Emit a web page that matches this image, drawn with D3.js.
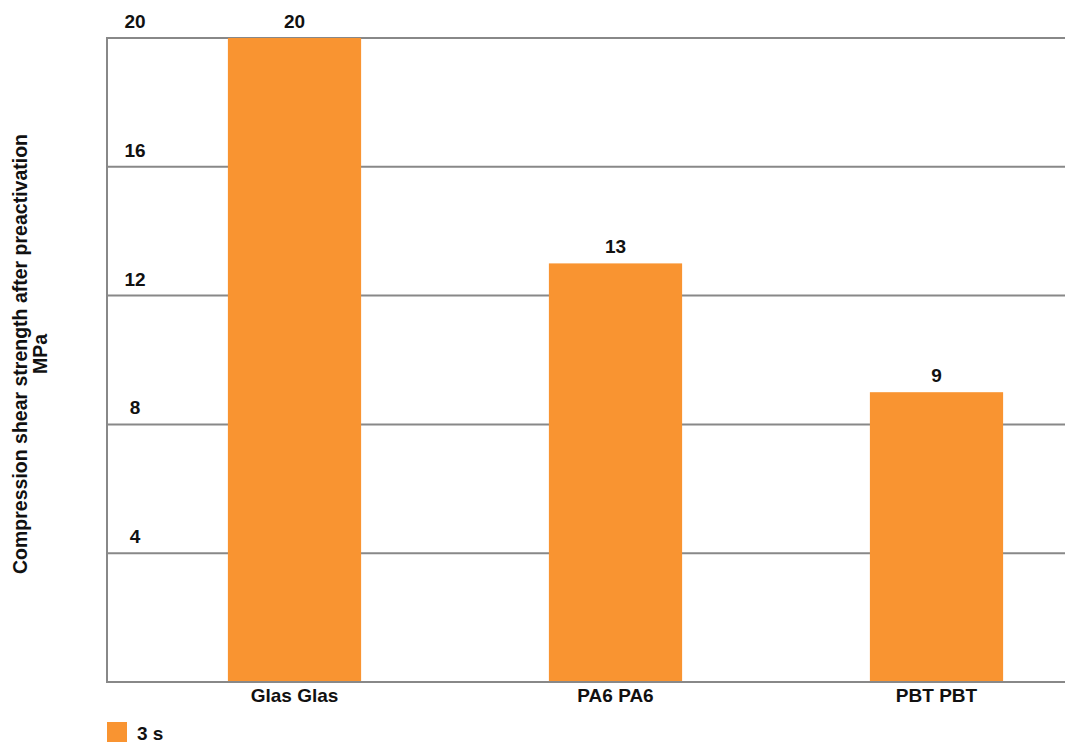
<!DOCTYPE html>
<html>
<head>
<meta charset="utf-8">
<script src="https://cdn.jsdelivr.net/npm/d3@7"></script>
<style>
  body { margin: 0; background: #fff; }
  text { font-family: "Liberation Sans", Arial, sans-serif; font-weight: bold; fill: #111; }
</style>
</head>
<body>
<div id="chart"></div>
<script>
const categories = ['Glas Glas', 'PA6 PA6', 'PBT PBT'];
const values = [20, 13, 9];
const yTicks = [4, 8, 12, 16, 20];
const seriesName = '3 s';
const yTitle = ['Compression shear strength after preactivation', 'MPa'];

const width = 1065, height = 744;
const plot = { left: 107, top: 38, bottom: 682 };
const fs = 19;

const svg = d3.select('#chart').append('svg')
    .attr('width', width)
    .attr('height', height);

const y = d3.scaleLinear([0, 20], [plot.bottom, plot.top]);
const x = d3.scaleBand(categories, [134, 1097])
    .paddingInner(0.585)
    .paddingOuter(0.2925);

// gridlines
svg.append('g')
    .selectAll('line')
    .data(yTicks)
    .join('line')
    .attr('x1', plot.left)
    .attr('x2', width)
    .attr('y1', d => y(d))
    .attr('y2', d => y(d))
    .attr('stroke', '#888')
    .attr('stroke-width', 2);

// bars
svg.append('g')
    .selectAll('rect')
    .data(values)
    .join('rect')
    .attr('x', (d, i) => x(categories[i]))
    .attr('y', d => y(d))
    .attr('width', x.bandwidth())
    .attr('height', d => y(0) - y(d))
    .attr('fill', '#f99431');

// axes lines
svg.append('line')
    .attr('x1', plot.left).attr('x2', plot.left)
    .attr('y1', plot.top - 1).attr('y2', plot.bottom + 1)
    .attr('stroke', '#888').attr('stroke-width', 2);
svg.append('line')
    .attr('x1', plot.left).attr('x2', width)
    .attr('y1', plot.bottom).attr('y2', plot.bottom)
    .attr('stroke', '#888').attr('stroke-width', 2);

// tick labels
svg.append('g')
    .attr('font-size', fs)
    .selectAll('text')
    .data(yTicks)
    .join('text')
    .attr('x', 135)
    .attr('y', d => y(d) - 10)
    .attr('text-anchor', 'middle')
    .text(d => d);

// value labels
svg.append('g')
    .attr('font-size', fs)
    .selectAll('text')
    .data(values)
    .join('text')
    .attr('x', (d, i) => x(categories[i]) + x.bandwidth() / 2)
    .attr('y', d => y(d) - 10)
    .attr('text-anchor', 'middle')
    .text(d => d);

// category labels
svg.append('g')
    .attr('font-size', fs)
    .selectAll('text')
    .data(categories)
    .join('text')
    .attr('x', d => x(d) + x.bandwidth() / 2)
    .attr('y', 702)
    .attr('text-anchor', 'middle')
    .text(d => d);

// y title
svg.append('text')
    .attr('font-size', 19.5)
    .attr('text-anchor', 'middle')
    .attr('transform', 'translate(27, 354) rotate(-90)')
    .call(t => t.append('tspan').attr('x', 0).attr('y', 0).text(yTitle[0]))
    .call(t => t.append('tspan').attr('x', 0).attr('y', 20).text(yTitle[1]));

// legend
svg.append('rect')
    .attr('x', 107).attr('y', 722)
    .attr('width', 20).attr('height', 20)
    .attr('fill', '#f99431');
svg.append('text')
    .attr('font-size', fs)
    .attr('x', 137).attr('y', 740)
    .text(seriesName);
</script>
</body>
</html>
